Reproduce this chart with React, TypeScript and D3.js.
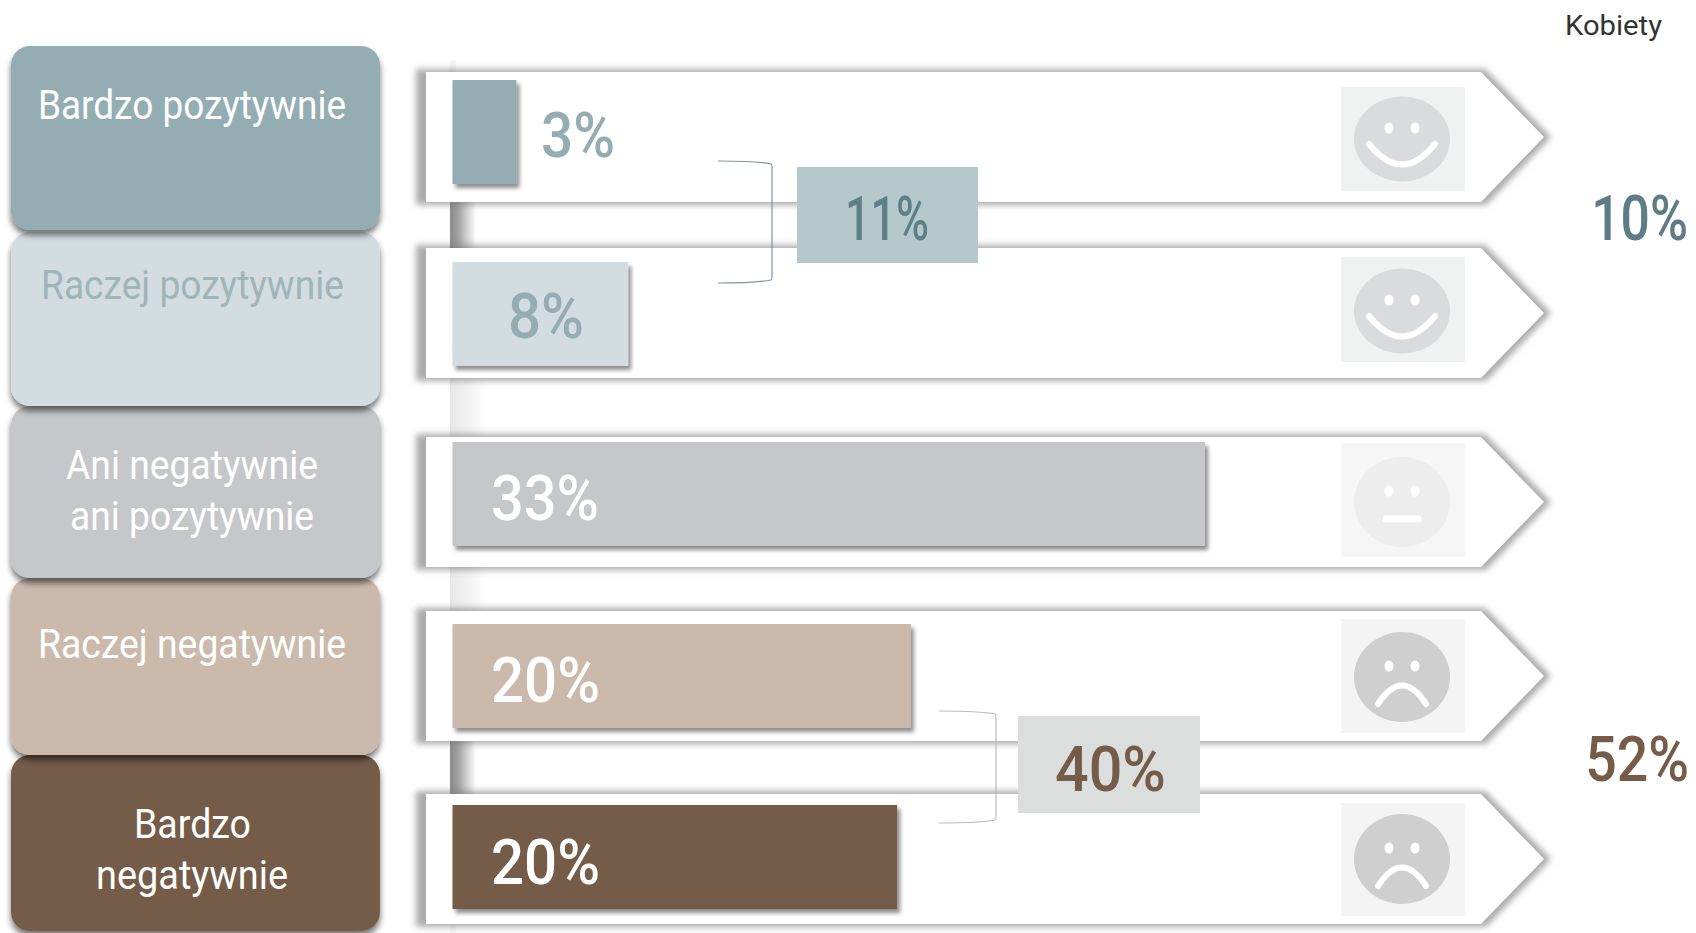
import * as d3 from 'd3';

const categories = ['Bardzo pozytywnie', 'Raczej pozytywnie', 'Ani negatywnie ani pozytywnie', 'Raczej negatywnie', 'Bardzo negatywnie'];
const shares = [2.8, 7.7, 33, 20.1, 19.5];
const faces = ['smile', 'smile', 'neutral', 'frown', 'frown'];
const fills = ['#93adb2', '#d3dce1', '#c6c7cb', '#cbbaac', '#745b48'];
const shareColors = ['#93adb2', '#93adb2', '#ffffff', '#ffffff', '#ffffff'];

const W = 1696;
const H = 933;

const x = d3.scaleLinear().domain([0, 33]).range([452.5, 1205]);
const rowTop = d3.scaleOrdinal<string, number>().domain(categories).range([72, 248, 437, 611, 794]);
const barTop = d3.scaleOrdinal<string, number>().domain(categories).range([80, 262, 442, 624, 805]);
const rowH = 130;
const fmt = (v: number) => `${d3.format('.0f')(v)}%`;

const FONT = 'Roboto, "Liberation Sans", sans-serif';

// label boxes, painted bottom-up so every box throws its shadow on the next one
const boxTops = [46, 232, 406, 578, 755];
const boxBottoms = [230, 406, 578, 755, 931];
const boxLines = [
  [{ t: 'Bardzo pozytywnie', a: 38, b: 346, y: 119 }],
  [{ t: 'Raczej pozytywnie', a: 41, b: 344, y: 299 }],
  [{ t: 'Ani negatywnie', a: 66, b: 318, y: 479 }, { t: 'ani pozytywnie', a: 70, b: 314, y: 530 }],
  [{ t: 'Raczej negatywnie', a: 38, b: 346, y: 658 }],
  [{ t: 'Bardzo', a: 134, b: 251, y: 838 }, { t: 'negatywnie', a: 96, b: 288, y: 889 }],
];
const boxTextColors = ['#ffffff', '#9fb5b9', '#ffffff', '#ffffff', '#ffffff'];

const barLabels = [
  { a: 541, b: 615, y: 157 },
  { a: 508, b: 584, y: 338 },
  { a: 491, b: 599, y: 520 },
  { a: 491, b: 600, y: 702 },
  { a: 491, b: 600, y: 884 },
];

const tiles = [
  { y0: 87, y1: 191, cy: 139, fill: '#f0f2f2', face: '#d9dcdc' },
  { y0: 257, y1: 362, cy: 311, fill: '#f0f2f2', face: '#d9dcdc' },
  { y0: 443, y1: 557, cy: 502, fill: '#f6f6f6', face: '#ededed' },
  { y0: 619, y1: 733, cy: 677, fill: '#f4f4f4', face: '#cfcfcf' },
  { y0: 803, y1: 916, cy: 859, fill: '#f4f4f4', face: '#cfcfcf' },
];

const arrowLine = d3.line();

function arrowPath(top: number) {
  return arrowLine([
    [426, top], [1481, top], [1544, top + rowH / 2], [1481, top + rowH], [426, top + rowH],
  ]) + 'Z';
}

function arrowShadowPath(top: number) {
  return arrowLine([
    [416, top - 3], [1485, top - 3], [1551, top + rowH / 2], [1486, top + rowH + 3], [416, top + rowH + 3],
  ]) + 'Z';
}

function bracketPath(x0: number, x1: number, y0: number, y1: number) {
  const p = d3.path();
  p.moveTo(x0, y0);
  p.quadraticCurveTo(x1 - 16, y0, x1 - 1, y0 + 3);
  p.quadraticCurveTo(x1, y0 + 3, x1, y0 + 7);
  p.lineTo(x1, y1 - 7);
  p.quadraticCurveTo(x1, y1 - 3, x1 - 1, y1 - 3);
  p.quadraticCurveTo(x1 - 16, y1, x0, y1);
  return p.toString();
}

function Txt({ t, a, b, y, size, fill, weight = 500 }: any) {
  return (
    <text x={a} y={y} fontSize={size} fill={fill} fontFamily={FONT} fontWeight={weight}
      textLength={b - a} lengthAdjust="spacingAndGlyphs">{t}</text>
  );
}

// the two totals sit against the right edge, so they are squeezed with a transform
function EdgeTxt({ t, b, y, size, fill, squeeze }: any) {
  return (
    <text transform={`translate(${b},${y}) scale(${squeeze},1)`} textAnchor="end" fontSize={size}
      fill={fill} fontFamily={FONT} fontWeight={500}>{t}</text>
  );
}

function Face({ kind, tile }: any) {
  const cx = 1402;
  const { cy } = tile;
  let mouth = '';
  if (kind === 'smile') mouth = `M${cx - 33},${cy + 5}Q${cx},${cy + 46} ${cx + 33},${cy + 5}`;
  if (kind === 'neutral') mouth = `M${cx - 16},${cy + 17}H${cx + 16}`;
  if (kind === 'frown') mouth = `M${cx - 24},${cy + 27}Q${cx},${cy - 10} ${cx + 24},${cy + 27}`;
  return (
    <g>
      <rect x={1341} y={tile.y0} width={124} height={tile.y1 - tile.y0} fill={tile.fill} />
      <ellipse cx={cx} cy={cy} rx={48} ry={tile.y1 - tile.y0 > 110 ? 45 : 42.5} fill={tile.face} />
      {[-13, 13].map(dx => (
        <ellipse key={dx} cx={cx + dx} cy={cy - 11} rx={4.5} ry={5.5} fill="#ffffff" />
      ))}
      <path d={mouth} fill="none" stroke="#ffffff" strokeLinecap="round"
        strokeWidth={kind === 'neutral' ? 7 : 6} />
    </g>
  );
}

export default function App() {
  return (
    <svg width={W} height={H} viewBox={`0 0 ${W} ${H}`}
      style={{ position: 'absolute', left: 0, top: 0, display: 'block', background: '#fff' }}>
      <defs>
        <filter id="boxShadow" x="-5%" y="-5%" width="110%" height="115%">
          <feDropShadow dx="0" dy="5" stdDeviation="3" floodColor="#000" floodOpacity="0.55" />
        </filter>
        <filter id="barShadow" x="-5%" y="-10%" width="115%" height="125%">
          <feDropShadow dx="3" dy="4" stdDeviation="2" floodColor="#000" floodOpacity="0.45" />
        </filter>
        <filter id="arrowBlur" x="-3%" y="-10%" width="106%" height="120%">
          <feGaussianBlur stdDeviation="3" />
        </filter>
        <linearGradient id="axisDark" x1="0" x2="1" y1="0" y2="0">
          <stop offset="0" stopColor="#8a8a8a" />
          <stop offset="0.3" stopColor="#a0a0a0" />
          <stop offset="1" stopColor="#ffffff" />
        </linearGradient>
        <linearGradient id="axisFaint" x1="0" x2="1" y1="0" y2="0">
          <stop offset="0" stopColor="#e8e8e8" />
          <stop offset="0.5" stopColor="#f2f2f2" />
          <stop offset="1" stopColor="#ffffff" />
        </linearGradient>
      </defs>

      {/* axis showing through the gaps between the arrows */}
      <rect x={450} y={60} width={6} height={H - 60} fill="#f6f6f6" />
      {categories.slice(0, -1).map((c, i) => {
        const y0 = rowTop(c) + rowH;
        const y1 = rowTop(categories[i + 1]);
        const dark = i === 0 || i === 3;
        return <rect key={c} x={450} y={y0} width={dark ? 26 : 36} height={y1 - y0}
          fill={`url(#${dark ? 'axisDark' : 'axisFaint'})`} />;
      })}

      {/* arrows */}
      {categories.map(c => (
        <g key={c}>
          <path d={arrowShadowPath(rowTop(c))} fill="#777777" fillOpacity={0.62} filter="url(#arrowBlur)" />
          <path d={arrowPath(rowTop(c))} fill="#ffffff" />
        </g>
      ))}

      {/* label boxes */}
      {d3.range(categories.length).reverse().map(i => (
        <rect key={i} x={11} y={boxTops[i]} width={369} height={boxBottoms[i] - boxTops[i]}
          rx={19} fill={fills[i]} filter="url(#boxShadow)" />
      ))}
      {boxLines.map((lines, i) => lines.map(l => (
        <Txt key={l.t} {...l} size={40} fill={boxTextColors[i]} weight={400} />
      )))}

      {/* bars */}
      {categories.map((c, i) => (
        <rect key={c} x={x(0)} y={barTop(c)}
          width={x(shares[i]) - x(0)} height={104} fill={fills[i]} filter="url(#barShadow)" />
      ))}
      {shares.map((v, i) => (
        <Txt key={i} t={fmt(v)} {...barLabels[i]} size={63} fill={shareColors[i]} />
      ))}

      {/* smileys */}
      {faces.map((f, i) => <Face key={i} kind={f} tile={tiles[i]} />)}

      {/* sums */}
      <path d={bracketPath(718, 772, 161, 283)} fill="none" stroke="#7d979d" strokeWidth={1.2} />
      <rect x={797} y={167} width={181} height={96} fill="#b5c9cd" />
      <Txt t="11%" a={845} b={929} y={240} size={61} fill="#5f7f87" />

      <path d={bracketPath(939, 996, 711, 823)} fill="none" stroke="#bcbcbc" strokeWidth={1.2} />
      <rect x={1018} y={716} width={182} height={97} fill="#dcdddd" />
      <Txt t="40%" a={1055} b={1166} y={791} size={63} fill="#755c49" />

      <Txt t="Kobiety" a={1565} b={1662} y={35} size={27} fill="#333333" weight={400} />
      <EdgeTxt t="10%" b={1688} y={240} size={63} fill="#5d7c85" squeeze={0.82} />
      <EdgeTxt t="52%" b={1689} y={781} size={63} fill="#755c49" squeeze={0.88} />
    </svg>
  );
}
